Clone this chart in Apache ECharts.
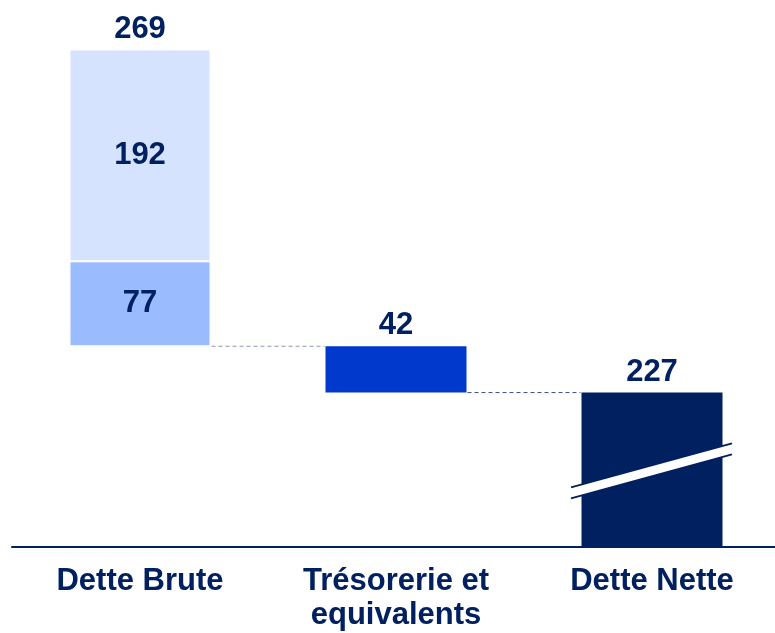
<!DOCTYPE html>
<html>
<head>
<meta charset="utf-8">
<script src="https://cdn.jsdelivr.net/npm/echarts@6/dist/echarts.min.js"></script>
<style>
html,body{margin:0;padding:0;background:#fff;}
#chart{width:775px;height:633px;}
</style>
</head>
<body>
<div id="chart"></div>
<script>
// ---- data ----
const categories = ['Dette Brute', 'Trésorerie et\nequivalents', 'Dette Nette'];
const bruteParts = [77, 192];      // lower, upper segments of Dette Brute
const tresorerie = 42;
const detteNette = 227;
const totals = [269, 42, 227];      // labels shown above bars
const breakGap = 87;               // hidden range of broken Dette Nette bar

// ---- derived (drawn) values ----
const netDrawn = detteNette - breakGap;          // drawn height of Dette Nette
const tresBase = netDrawn;
const bruteBase = tresBase + tresorerie;
const bruteTop = bruteBase + bruteParts[0] + bruteParts[1];

const NAVY = '#002060';
const FONT = 'Liberation Sans, Arial, sans-serif';
const BW = 141;

const chart = echarts.init(document.getElementById('chart'), null, {renderer: 'canvas'});

const labelStyle = {color: NAVY, fontSize: 31, fontWeight: 'bold', fontFamily: FONT};

const option = {
  animation: false,
  grid: {left: 12, width: 768, top: 39.6, bottom: 86, outerBoundsMode: 'none', containLabel: false},
  xAxis: {
    type: 'category',
    data: categories,
    axisLine: {lineStyle: {color: NAVY, width: 2}},
    axisTick: {show: false},
    axisLabel: {color: NAVY, fontSize: 31, fontWeight: 'bold', fontFamily: FONT, lineHeight: 34, margin: 17, interval: 0}
  },
  yAxis: {type: 'value', min: 0, max: 460, show: false, splitLine: {show: false}},
  series: [
    {
      type: 'bar', stack: 'a', barWidth: BW, silent: true,
      itemStyle: {color: 'transparent'},
      data: [bruteBase, tresBase, 0]
    },
    {
      type: 'bar', stack: 'a', barWidth: BW,
      itemStyle: {borderColor: '#fff', borderWidth: 1},
      data: [
        {value: bruteParts[0], itemStyle: {color: '#9bbbff'}, label: {show: true, position: 'inside', formatter: String(bruteParts[0]), ...labelStyle}},
        {value: tresorerie, itemStyle: {color: '#0039cc', borderWidth: 0}},
        {value: netDrawn, itemStyle: {color: NAVY, borderWidth: 0}}
      ]
    },
    {
      type: 'bar', stack: 'a', barWidth: BW,
      itemStyle: {color: '#d6e3ff', borderColor: '#fff', borderWidth: 1},
      label: {show: true, position: 'inside', formatter: String(bruteParts[1]), ...labelStyle},
      data: [bruteParts[1], '-', '-']
    },
    {
      type: 'scatter', symbolSize: 0, silent: true,
      itemStyle: {opacity: 1},
      label: {show: true, position: 'top', distance: 5, formatter: p => String(totals[p.dataIndex]), ...labelStyle},
      data: [[0, bruteTop], [1, bruteBase], [2, netDrawn]]
    },
    {
      // dashed connectors
      type: 'custom', silent: true,
      data: [[0, bruteBase], [1, tresBase]],
      renderItem: function (params, api) {
        const i = api.value(0), v = api.value(1);
        const a = api.coord([i, v]);
        const b = api.coord([i + 1, v]);
        return {
          type: 'line',
          shape: {x1: a[0] + BW / 2 + 1, y1: a[1], x2: b[0] - BW / 2 - 1, y2: b[1]},
          style: {stroke: params.dataIndex === 0 ? '#8a96b8' : '#3a4c85', lineWidth: 1, lineDash: [4, 3]}
        };
      }
    },
    {
      // axis-break mark on Dette Nette
      type: 'custom', silent: true, z: 10,
      data: [[2, 69]],
      renderItem: function (params, api) {
        const c = api.coord([api.value(0), api.value(1)]);
        const xl = c[0] - 81, xr = c[0] + 80, dy = 22, h = 5.5;
        return {
          type: 'group',
          children: [
            {type: 'polygon', shape: {points: [[xl, c[1] - h + dy], [xr, c[1] - h - dy], [xr, c[1] + h - dy], [xl, c[1] + h + dy]]}, style: {fill: '#fff'}},
            {type: 'line', shape: {x1: xl, y1: c[1] - h + dy, x2: xr, y2: c[1] - h - dy}, style: {stroke: NAVY, lineWidth: 2}},
            {type: 'line', shape: {x1: xl, y1: c[1] + h + dy, x2: xr, y2: c[1] + h - dy}, style: {stroke: NAVY, lineWidth: 2}}
          ]
        };
      }
    }
  ]
};
chart.setOption(option);
</script>
</body>
</html>
